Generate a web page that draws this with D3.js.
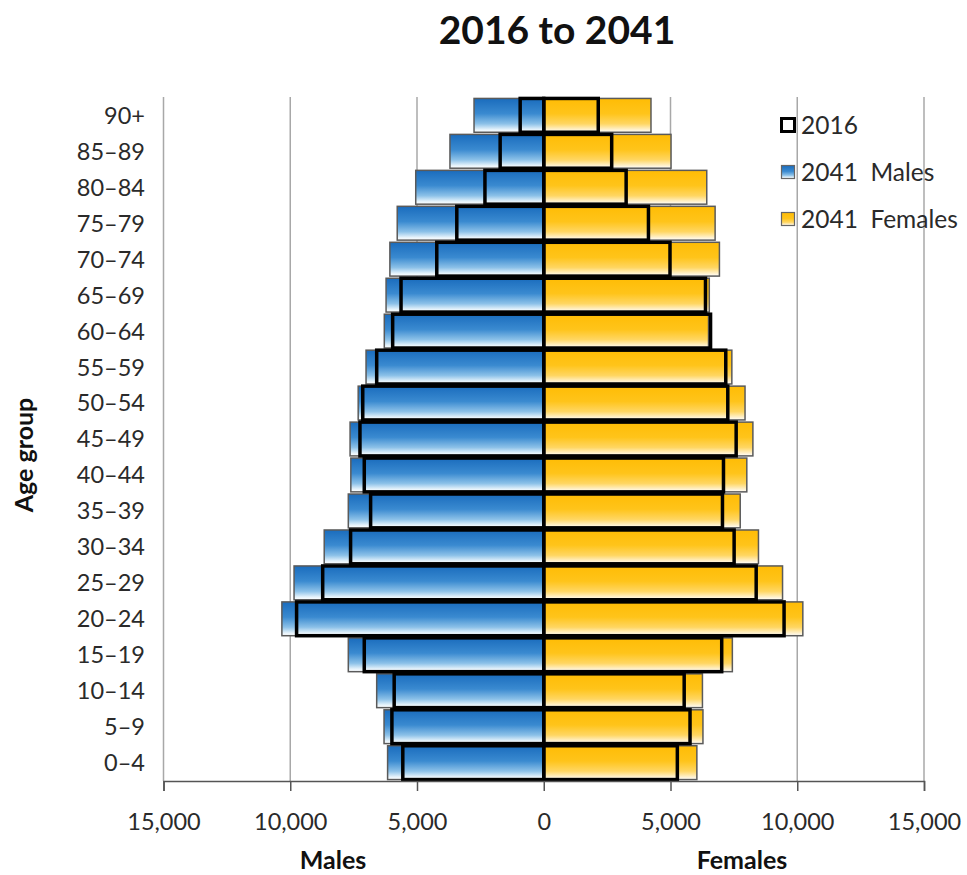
<!DOCTYPE html>
<html>
<head>
<meta charset="utf-8">
<script src="https://cdn.jsdelivr.net/npm/d3@7"></script>
<style>
  html, body { margin: 0; padding: 0; background: #fff; }
  svg { display: block; font-family: Lato, "Open Sans", sans-serif; }
</style>
</head>
<body>
<svg id="chart" width="967" height="875"></svg>
<script>
// Age groups, youngest first
const ageGroups = ["0\u20134","5\u20139","10\u201314","15\u201319","20\u201324","25\u201329","30\u201334","35\u201339","40\u201344","45\u201349","50\u201354","55\u201359","60\u201364","65\u201369","70\u201374","75\u201379","80\u201384","85\u201389","90+"];

// Population counts by age group
const males2016   = [5560, 5990, 5900, 7080, 9750, 8720, 7620, 6830, 7080, 7250, 7140, 6590, 5960, 5630, 4220, 3430, 2320, 1720, 930];
const males2041   = [6160, 6300, 6590, 7710, 10330, 9850, 8660, 7710, 7610, 7640, 7320, 7010, 6290, 6220, 6070, 5780, 5050, 3700, 2750];
const females2016 = [5270, 5770, 5540, 7020, 9480, 8380, 7510, 7050, 7090, 7590, 7260, 7180, 6580, 6380, 4980, 4130, 3250, 2680, 2150];
const females2041 = [6040, 6280, 6260, 7440, 10220, 9420, 8470, 7750, 8010, 8250, 7940, 7420, 6500, 6530, 6930, 6760, 6430, 5020, 4230];

const xTicks = [-15000, -10000, -5000, 0, 5000, 10000, 15000];
const legendItems = ["2016", "2041  Males", "2041  Females"];

const svg = d3.select("#chart");
const margin = { left: 163.5, right: 43, top: 97, bottom: 94 };
const W = 967, H = 875;

const x = d3.scaleLinear().domain([-15000, 15000]).range([margin.left, W - margin.right]);
const y = d3.scaleBand().domain(ageGroups.slice().reverse())
  .range([margin.top, H - margin.bottom]).paddingInner(0.06).paddingOuter(0.04);

// Vertical gradients for the 2041 bars
const defs = svg.append("defs");
function gradient(id, stops) {
  const g = defs.append("linearGradient").attr("id", id)
    .attr("x1", 0).attr("y1", 0).attr("x2", 0).attr("y2", 1);
  stops.forEach(([o, c]) => g.append("stop").attr("offset", o).attr("stop-color", c));
}
gradient("gBlue", [["0%", "#1a6cbd"], ["45%", "#3a8ad0"], ["75%", "#8cc1e8"], ["92%", "#e6f3fb"], ["100%", "#ffffff"]]);
gradient("gGold", [["0%", "#ffbc05"], ["45%", "#ffc41a"], ["75%", "#ffd662"], ["92%", "#fff1cc"], ["100%", "#ffffff"]]);

// Title
svg.append("text").attr("x", 557).attr("y", 44).attr("text-anchor", "middle")
  .attr("font-size", 39).attr("font-weight", "bold").attr("fill", "#111").text("2016 to 2041");

// Gridlines
svg.append("g").selectAll("line").data(xTicks.filter(t => t !== 0 && t !== -15000)).join("line")
  .attr("x1", d => x(d)).attr("x2", d => x(d))
  .attr("y1", margin.top).attr("y2", H - margin.bottom)
  .attr("stroke", "#a8a8a8").attr("stroke-width", 1.5);

// 2041 bars
const bars = svg.append("g");
bars.selectAll("rect.m").data(ageGroups).join("rect").attr("class", "m")
  .attr("x", (d, i) => x(-males2041[i])).attr("y", d => y(d))
  .attr("width", (d, i) => x(0) - x(-males2041[i])).attr("height", y.bandwidth())
  .attr("fill", "url(#gBlue)").attr("stroke", "#5a5a5a").attr("stroke-width", 1.5);
bars.selectAll("rect.f").data(ageGroups).join("rect").attr("class", "f")
  .attr("x", x(0)).attr("y", d => y(d))
  .attr("width", (d, i) => x(females2041[i]) - x(0)).attr("height", y.bandwidth())
  .attr("fill", "url(#gGold)").attr("stroke", "#5a5a5a").attr("stroke-width", 1.5);

// 2016 outlines
const outl = svg.append("g").attr("fill", "none").attr("stroke", "#000").attr("stroke-width", 3.5);
outl.selectAll("rect.m").data(ageGroups).join("rect").attr("class", "m")
  .attr("x", (d, i) => x(-males2016[i])).attr("y", d => y(d))
  .attr("width", (d, i) => x(0) - x(-males2016[i])).attr("height", y.bandwidth());
outl.selectAll("rect.f").data(ageGroups).join("rect").attr("class", "f")
  .attr("x", x(0)).attr("y", d => y(d))
  .attr("width", (d, i) => x(females2016[i]) - x(0)).attr("height", y.bandwidth());

// Left axis line and category labels
svg.append("line").attr("x1", margin.left).attr("x2", margin.left)
  .attr("y1", margin.top).attr("y2", H - margin.bottom)
  .attr("stroke", "#a8a8a8").attr("stroke-width", 1.5);
svg.append("g").selectAll("text").data(ageGroups).join("text")
  .attr("x", 145).attr("y", d => y(d) + y.bandwidth() / 2).attr("dy", "0.36em")
  .attr("text-anchor", "end").attr("font-size", 23.5).attr("fill", "#2a2a2a").text(d => d);

// Bottom axis
const fmt = d3.format(",");
const xAxis = svg.append("g").attr("transform", `translate(0,${H - margin.bottom})`)
  .call(d3.axisBottom(x).tickValues(xTicks).tickFormat(d => fmt(Math.abs(d))).tickSize(10).tickPadding(22));
xAxis.select(".domain").attr("stroke", "#555").attr("stroke-width", 1.5);
xAxis.selectAll(".tick line").attr("stroke", "#555").attr("stroke-width", 1.5);
xAxis.selectAll(".tick text").attr("font-size", 23.5).attr("fill", "#2a2a2a").attr("font-family", "Lato, sans-serif");

// Axis titles
svg.append("text").attr("x", 333).attr("y", 869).attr("text-anchor", "middle")
  .attr("font-size", 25).attr("font-weight", "bold").attr("fill", "#111").text("Males");
svg.append("text").attr("x", 742).attr("y", 869).attr("text-anchor", "middle")
  .attr("font-size", 25).attr("font-weight", "bold").attr("fill", "#111").text("Females");
svg.append("text").attr("transform", "translate(33,455) rotate(-90)").attr("text-anchor", "middle")
  .attr("font-size", 25).attr("font-weight", "bold").attr("fill", "#111").text("Age group");

// Legend
const lg = svg.append("g").attr("transform", "translate(780,117)");
const swatch = [
  { fill: "#fff", stroke: "#000", sw: 3 },
  { fill: "url(#gBlue)", stroke: "#666", sw: 1.2 },
  { fill: "url(#gGold)", stroke: "#666", sw: 1.2 }
];
legendItems.forEach((t, i) => {
  const g = lg.append("g").attr("transform", `translate(0,${i * 47})`);
  g.append("rect").attr("x", 1.5).attr("y", 1.5).attr("width", 13).attr("height", 13)
    .attr("fill", swatch[i].fill).attr("stroke", swatch[i].stroke).attr("stroke-width", swatch[i].sw);
  g.append("text").attr("x", 21).attr("y", 8).attr("dy", "0.36em")
    .attr("font-size", 24.5).attr("fill", "#2a2a2a").attr("xml:space", "preserve").style("white-space", "pre").text(t);
});
</script>
</body>
</html>
